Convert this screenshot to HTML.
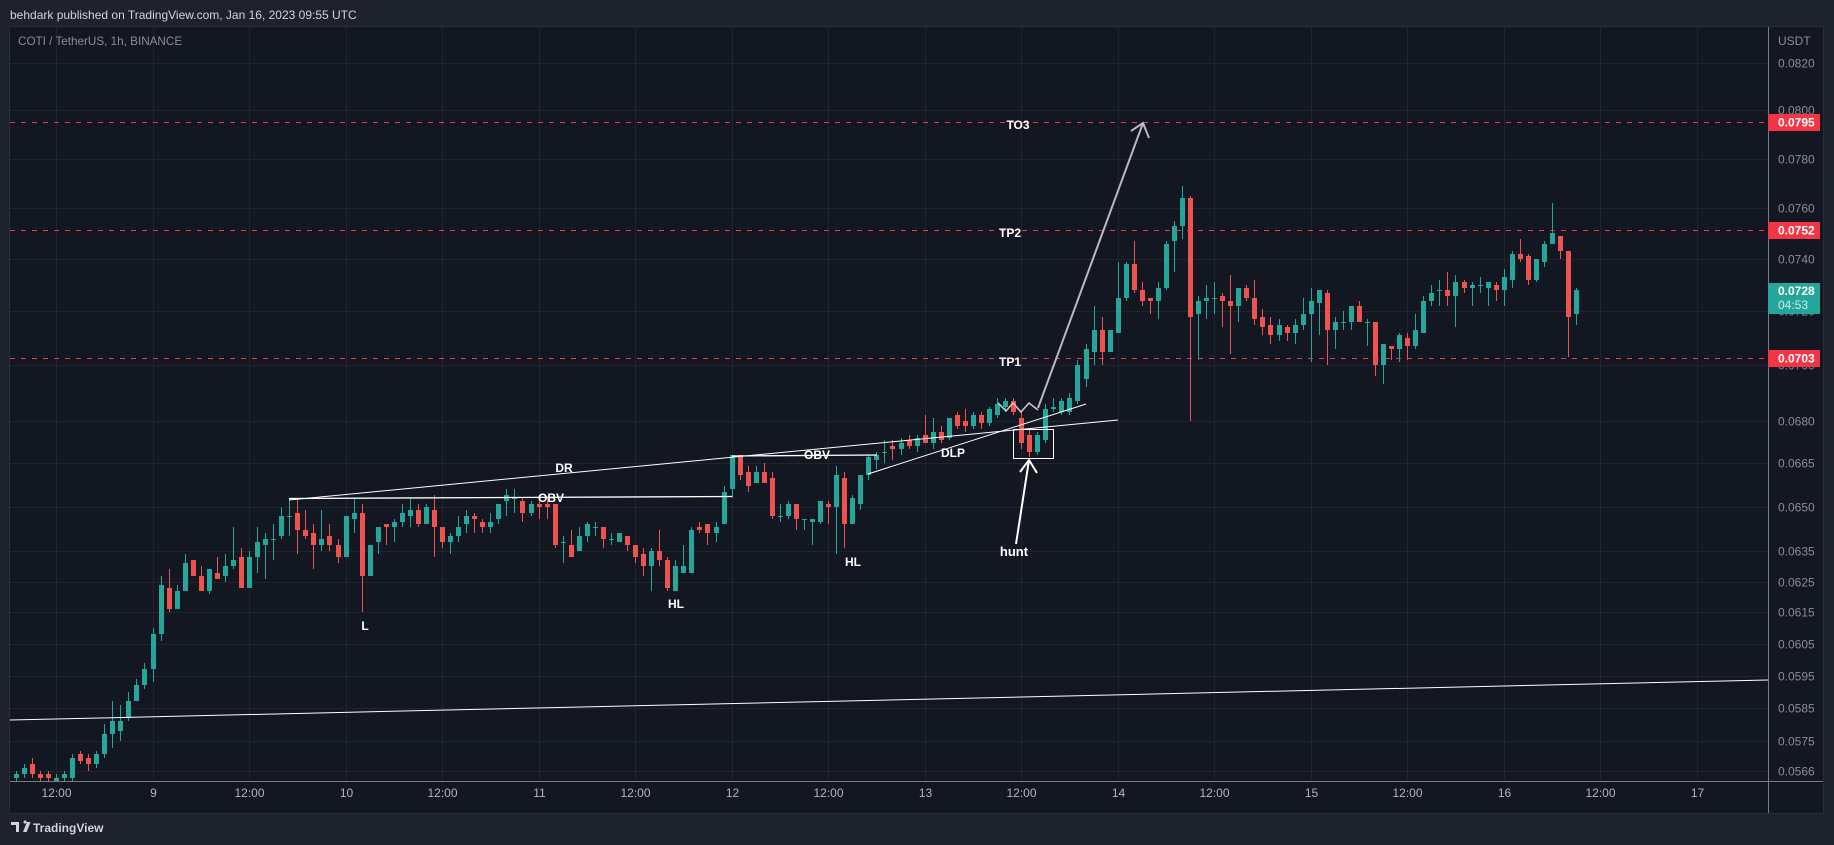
<!DOCTYPE html>
<html lang="en">
<head>
<meta charset="utf-8">
<title>COTI / TetherUS 1h chart</title>
<style>
html,body{margin:0;padding:0;background:#1e222d;width:1834px;height:845px;overflow:hidden}
svg{display:block;position:absolute;left:0;top:0}
text{font-family:"Liberation Sans",sans-serif}
</style>
</head>
<body>
<svg id="chart" xmlns="http://www.w3.org/2000/svg" width="1834" height="845" viewBox="0 0 1834 845">
  <defs>
    <clipPath id="plot-clip"><rect x="10" y="28" width="1758" height="753"/></clipPath>
  </defs>
  <rect x="0" y="0" width="1834" height="845" fill="#1e222d"/>
  <text x="10" y="19" font-size="12" fill="#d1d4dc">behdark published on TradingView.com, Jan 16, 2023 09:55 UTC</text>
  <rect x="9.5" y="26.5" width="1814" height="787" fill="#131722" stroke="#2a2e39" stroke-width="1"/>
  <g id="grid"></g>
  <g id="candles" clip-path="url(#plot-clip)"></g>
  <g id="levels" clip-path="url(#plot-clip)"></g>
  <g clip-path="url(#plot-clip)" fill="none" stroke="#ffffff" stroke-width="1">
    <line x1="289" y1="500" x2="1118" y2="420"/>
    <line x1="289" y1="498.5" x2="732" y2="496.5" stroke-width="1.3"/>
    <line x1="732" y1="456" x2="877" y2="455" stroke-width="1.3"/>
    <line x1="868" y1="474" x2="1086" y2="404"/>
    <line x1="10" y1="720" x2="1768" y2="680"/>
    <rect x="1013.5" y="429.5" width="40" height="29"/>
    <polyline points="998,403 1006,411 1013,403 1021,412 1029,403 1038,410" stroke="#c4c6cc" stroke-width="1.6"/>
    <line x1="1038" y1="408" x2="1143" y2="123" stroke="#b8bac0" stroke-width="2"/>
    <polyline points="1131,131 1143,123 1149,138" stroke="#b8bac0" stroke-width="2"/>
    <line x1="1016" y1="544" x2="1029" y2="460" stroke-width="2"/>
    <polyline points="1020,472 1029,460 1037,473" stroke-width="2"/>
  </g>
  <g font-size="12" font-weight="bold" fill="#ffffff" text-anchor="middle">
    <text x="1018" y="129">TO3</text>
    <text x="1010" y="237">TP2</text>
    <text x="1010" y="366">TP1</text>
    <text x="564" y="472">DR</text>
    <text x="551" y="502">OBV</text>
    <text x="817" y="459">OBV</text>
    <text x="953" y="457">DLP</text>
    <text x="365" y="630">L</text>
    <text x="676" y="608">HL</text>
    <text x="853" y="566">HL</text>
    <text x="1014" y="556" font-size="13">hunt</text>
  </g>
  <text x="18" y="45" font-size="11.7" fill="#8a8d96">COTI / TetherUS, 1h, BINANCE</text>
  <line x1="1768.5" y1="27" x2="1768.5" y2="813" stroke="#787b86" stroke-width="1"/>
  <line x1="10" y1="781.5" x2="1823" y2="781.5" stroke="#787b86" stroke-width="1"/>
  <text x="1778" y="45" font-size="12" fill="#8a8d96">USDT</text>
  <g id="price-axis" font-size="12" fill="#8a8d96"></g>
  <g id="time-axis" font-size="12" fill="#b2b5be" text-anchor="middle"></g>
  <g id="tags" font-size="12" font-weight="bold" fill="#ffffff"></g>
  <g>
    <path d="M11 822h8v10h-3v-7h-5zM20 822h3.5a1.6 1.6 0 1 1 0 .1zM27 822h3.6l-4 10h-3.6z" fill="#d1d4dc"/>
    <text x="33" y="832" font-size="12" font-weight="bold" fill="#d1d4dc">TradingView</text>
  </g>
</svg>
<script>
// Candle values in units of 0.0001 USDT, first bar is 5 hours before Jan 8 12:00.
const firstBarHour = -5;
const opens = [
564,565,568,565,565,563,564,564,571,570,
568,571,577,578,582,587,592,597,608,623,
616,622,632,627,622,628,627,630,633,623,
633,637,639,640,647,648,642,641,637,640,
637,633,646,648,627,638,644,643,645,647,
649,644,649,643,638,640,644,647,645,643,
646,652,653,652,648,651,651,651,638,637,
635,640,643,643,639,638,640,637,634,630,
635,632,622,628,628,643,644,641,644,656,
668,662,658,662,660,647,647,651,646,645,
645,651,650,660,644,651,661,666,669,671,
670,673,671,675,672,676,674,682,680,678,
682,679,682,685,687,681,675,669,673,684,
683,683,687,695,705,713,705,712,725,738,
728,725,724,729,747,753,764,719,724,725,
726,724,722,729,725,718,715,711,714,712,
715,719,723,727,713,716,716,722,716,716,
700,707,706,710,707,712,724,728,728,726,
731,729,730,729,730,728,732,742,741,732,
739,746,749,743,719];
const highs = [
566,568,570,566,566,565,566,571,572,571,
572,580,587,586,590,594,599,610,627,629,
624,634,632,630,629,633,634,643,636,635,
643,641,644,650,653,653,649,644,649,644,
639,647,653,651,637,643,644,646,651,653,
651,651,654,643,641,647,649,648,646,648,
651,656,656,653,652,653,653,651,640,642,
643,645,645,643,641,641,640,637,636,636,
642,633,632,637,643,645,644,645,657,668,
668,664,664,665,662,651,652,651,646,646,
652,652,664,662,654,661,668,669,673,673,
674,675,675,682,681,678,681,683,684,683,
683,685,688,688,688,683,677,676,686,688,
688,690,702,708,722,718,713,739,739,747,
731,725,731,747,755,769,765,726,730,731,
727,734,729,730,732,721,718,717,715,717,
725,729,728,728,718,720,722,724,717,716,
708,707,712,712,719,726,730,732,735,734,
732,731,733,731,731,736,743,748,742,740,
747,762,749,743,729];
const lows = [
563,564,564,563,563,563,563,563,568,566,
567,570,573,575,581,587,591,593,606,615,
616,622,627,622,621,626,625,629,623,623,
628,626,632,639,640,634,639,629,635,635,
631,633,641,615,627,634,637,638,643,643,
643,644,633,636,634,638,641,641,641,641,
644,647,648,645,647,646,646,636,631,633,
635,638,640,636,637,638,635,631,627,622,
630,622,622,628,628,641,637,638,644,653,
659,655,658,658,646,645,646,642,642,637,
644,644,634,636,644,649,659,663,665,666,
668,670,669,672,670,672,673,677,676,677,
677,678,681,683,682,670,667,668,672,683,
682,682,686,692,700,700,705,712,724,727,
722,719,717,728,735,748,680,702,717,719,
714,704,716,724,715,711,708,709,709,708,
713,701,711,700,706,713,713,716,707,696,
693,702,701,702,706,712,722,722,722,714,
727,722,727,722,724,722,729,739,730,731,
737,746,740,703,715];
const closes = [
565,567,565,564,564,564,565,570,569,568,
571,577,581,581,587,592,597,608,624,616,
622,631,627,622,629,626,630,632,623,633,
638,639,639,647,647,642,640,637,639,637,
633,647,648,627,637,643,643,645,648,649,
644,650,643,638,640,643,647,646,643,645,
651,654,653,648,651,650,650,637,638,633,
640,644,643,639,639,641,637,633,630,635,
632,623,630,630,642,642,641,643,655,668,
661,657,662,658,647,647,651,646,646,646,
652,650,661,644,653,661,667,668,669,670,
672,671,674,672,676,673,681,678,678,682,
679,684,686,687,683,672,669,675,684,685,
687,688,700,706,713,705,713,725,738,728,
724,724,729,746,753,764,718,724,725,725,
724,722,729,725,717,714,711,715,712,715,
719,724,728,713,716,716,722,716,716,700,
708,706,711,707,713,724,727,728,726,731,
729,730,730,731,728,733,742,740,732,740,
746,750,743,718,728];
const priceTickLabels = ["0.0820","0.0800","0.0780","0.0760","0.0740","0.0720","0.0700","0.0680","0.0665","0.0650","0.0635","0.0625","0.0615","0.0605","0.0595","0.0585","0.0575","0.0566"];
const timeTickHours = [0,12,24,36,48,60,72,84,96,108,120,132,144,156,168,180,192,204];
const timeTickLabels = ["12:00","9","12:00","10","12:00","11","12:00","12","12:00","13","12:00","14","12:00","15","12:00","16","12:00","17"];
const levelPrices = [0.0795,0.07512,0.07025];
const levelLabels = ["0.0795","0.0752","0.0703"];
const lastPrice = 0.0728;
const lastPriceLabel = "0.0728";
const countdownLabel = "04:53";

const SVG_NS = "http://www.w3.org/2000/svg";
function xOf(hour){ return 56 + 8.043 * hour; }
function yOf(price){ return 63 + 1910 * Math.log(0.082 / price); }
function make(tag, attrs, parent){
  const el = document.createElementNS(SVG_NS, tag);
  for (const k in attrs) el.setAttribute(k, attrs[k]);
  parent.appendChild(el);
  return el;
}

const gridG = document.getElementById("grid");
const priceG = document.getElementById("price-axis");
priceTickLabels.forEach(function(label){
  const gy = Math.round(yOf(parseFloat(label))) + 0.5;
  const gl = make("line", {x1:10, x2:1768, y1:gy, y2:gy, stroke:"#20242f", "stroke-width":1}, gridG);
  
  
  const tl = make("text", {x:1778, y:gy + 4}, priceG);
  
  
  tl.textContent = label;
});
const timeG = document.getElementById("time-axis");
timeTickHours.forEach(function(hour, i){
  const gx = Math.round(xOf(hour)) + 0.5;
  const gl = make("line", {x1:gx, x2:gx, y1:27, y2:781, stroke:"#20242f", "stroke-width":1}, gridG);
  
  
  const tl = make("text", {x:gx, y:797}, timeG);
  
  
  tl.textContent = timeTickLabels[i];
});

const candlesG = document.getElementById("candles");
opens.forEach(function(o, i){
  const c = closes[i], h = highs[i], l = lows[i];
  const color = c >= o ? "#26a69a" : "#ef5350";
  const cx = Math.round(xOf(firstBarHour + i));
  const g = make("g", {"shape-rendering":"crispEdges"}, candlesG);
  
  
  const yH = Math.round(yOf(h * 0.0001));
  const yL = Math.round(yOf(l * 0.0001));
  const yO = Math.round(yOf(o * 0.0001));
  const yC = Math.round(yOf(c * 0.0001));
  const wick = make("rect", {x:cx, y:yH, width:1, height:Math.max(1, yL - yH), fill:color}, g);
  
  
  const body = make("rect", {x:cx - 2, y:Math.min(yO, yC), width:5, height:Math.max(1, Math.abs(yO - yC)), fill:color}, g);
  
  
});

const levelsG = document.getElementById("levels");
const tagsG = document.getElementById("tags");
levelPrices.forEach(function(price, i){
  const ly = Math.round(yOf(price)) + 0.5;
  const line = make("line", {x1:10, x2:1768, y1:ly, y2:ly, stroke:"#f23645", "stroke-width":1, "stroke-dasharray":"5 6"}, levelsG);
  
  
  const tag = make("rect", {x:1768, y:ly - 8.5, width:52, height:17, fill:"#f23645"}, tagsG);
  
  
  const txt = make("text", {x:1778, y:ly + 4}, tagsG);
  
  
  txt.textContent = levelLabels[i];
});
const lastY = yOf(lastPrice);
const lastTag = make("rect", {x:1768, y:Math.round(lastY) - 7, width:52, height:31, fill:"#26a69a"}, tagsG);


const lastTxt = make("text", {x:1778, y:Math.round(lastY) + 5}, tagsG);


lastTxt.textContent = lastPriceLabel;
const cdTxt = make("text", {x:1778, y:Math.round(lastY) + 19, "font-weight":"normal", fill:"#c8ebe7"}, tagsG);


cdTxt.textContent = countdownLabel;
</script>
</body>
</html>
